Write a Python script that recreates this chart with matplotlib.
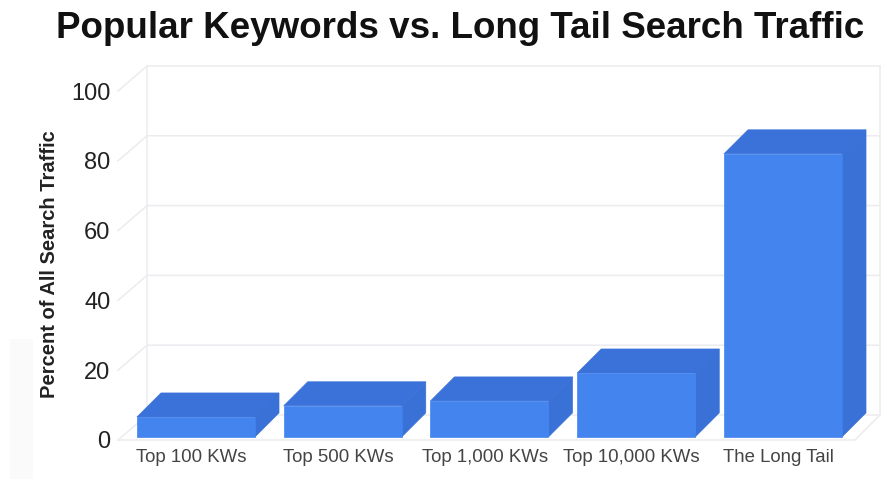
import matplotlib
matplotlib.use("Agg")
import matplotlib.pyplot as plt
from matplotlib.patches import Rectangle
from matplotlib.transforms import ScaledTranslation

plt.rcParams['font.family'] = ['Liberation Sans', 'DejaVu Sans']

categories = ["Top 100 KWs", "Top 500 KWs", "Top 1,000 KWs", "Top 10,000 KWs", "The Long Tail"]
values = [6.6, 9.8, 11.2, 19.2, 82]
yticks = [0, 20, 40, 60, 80, 100]

W, H = 887, 479
fig = plt.figure(figsize=(W / 100, H / 100), dpi=100)
fig.patch.set_facecolor("white")

# faint grey band on the left edge of the screenshot
fig.patches.append(Rectangle((10 / W, 0), 23 / W, 140 / H, transform=fig.transFigure,
                             facecolor="#fafafa", edgecolor="none"))

# front plane of the box: x 118-855 px, y 440-91 px
L, R, B, T = 118, 855, 440, 91
ax = fig.add_axes([L / W, 1 - B / H, (R - L) / W, (B - T) / H])
ax.set_ylim(0, 100)
spacing = 146.75
ax.set_xlim((L - 196) / spacing, (R - 196) / spacing)
ax.patch.set_alpha(0)
for s in ax.spines.values():
    s.set_visible(False)

# depth of the box and of the bars, in data units
px_x = 1 / spacing
px_y = 100 / (B - T)
box_dy = 25 * px_y
bar_dx = 24 * px_x
bar_dy = 24 * px_y
grid = "#ececf0"
x0, x1 = ax.get_xlim()
xb = x0 + 29 * px_x
xr = x1 + 25 * px_x

for t in yticks:
    ax.plot([x0, xb, xr], [t, t + box_dy, t + box_dy], color=grid, lw=1.1, clip_on=False, zorder=1)
ax.plot([xb, xb], [box_dy, 100 + box_dy], color=grid, lw=1.1, clip_on=False, zorder=1)
ax.plot([xr, xr], [box_dy, 100 + box_dy], color=grid, lw=1.1, clip_on=False, zorder=1)
ax.plot([x0, x1, xr], [0, 0, box_dy], color=grid, lw=1.1, clip_on=False, zorder=1)

base = 0.9
width = 118 * px_x
front = "#4384ee"
top = "#3a72d9"
side = "#3a71d6"
for i, v in enumerate(values):
    a = i - width / 2
    b = i + width / 2
    ax.fill([a, b, b + bar_dx, a + bar_dx], [v, v, v + bar_dy, v + bar_dy], fc=top, ec=top, lw=0.5, zorder=3, clip_on=False)
    ax.fill([b, b + bar_dx, b + bar_dx, b], [base, base + bar_dy, v + bar_dy, v], fc=side, ec=side, lw=0.5, zorder=3, clip_on=False)
    ax.bar(i, v - base, width=width, bottom=base, color=front, edgecolor=front, linewidth=0.5, zorder=4)

ax.set_yticks(yticks)
ax.set_xticks(range(len(categories)))
ax.set_xticklabels(categories, fontsize=13.4, color="#444444")
ax.tick_params(axis="y", length=0, pad=5.5, labelsize=17, labelcolor="#222222")
ax.tick_params(axis="x", length=0, pad=6.5)
# labels sit a little left of the bar centres in the reference
shift = ScaledTranslation(-4.5 / 100, 0, fig.dpi_scale_trans)
for lab in ax.get_xticklabels():
    lab.set_transform(lab.get_transform() + shift)

fig.text(460 / W, 1 - 28 / H, "Popular Keywords vs. Long Tail Search Traffic", fontsize=26.5,
         fontweight="bold", ha="center", va="center", color="#111111")
fig.text(50 / W, 1 - 264 / H, "Percent of All Search Traffic", fontsize=14.5, fontweight="bold",
         rotation=90, ha="center", va="center", color="#222222")

fig.savefig("out.png", dpi=100)
